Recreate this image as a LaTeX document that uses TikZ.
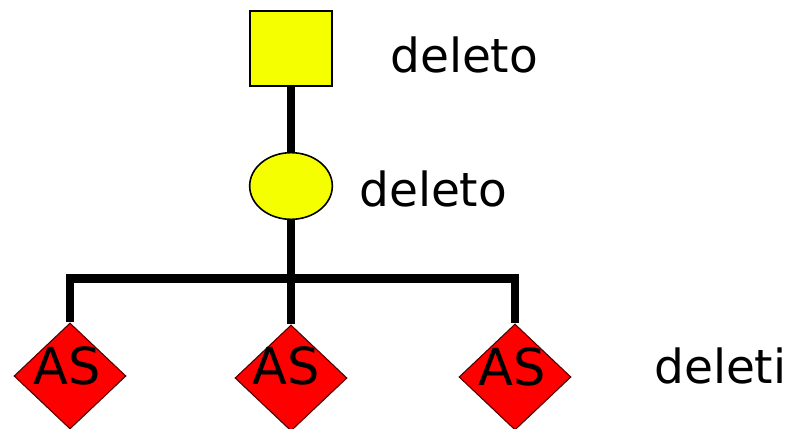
\documentclass[tikz,border=0pt]{standalone}
\usepackage{fontspec}
\setmainfont{DejaVu Sans}
\usetikzlibrary{shapes.geometric}
\definecolor{lemon}{RGB}{245,255,0}

\begin{document}
\begin{tikzpicture}[x=0.75pt,y=-0.75pt,
    wire/.style={line width=6.4pt,line join=miter},
    asbox/.style={diamond,draw=black!70!red,line width=0.8pt,fill=red,
      minimum width=84pt,minimum height=79.5pt,inner sep=0pt},
    astext/.style={inner sep=0pt,font=\fontsize{38.25}{40}\selectfont},
    lbl/.style={anchor=base west,inner sep=0pt,font=\fontsize{35.25}{40}\selectfont}]
  \useasboundingbox (0,0) rectangle (795,428);
  % top: square and circle
  \node[draw,line width=1.5pt,fill=lemon,minimum width=62pt,minimum height=56pt,inner sep=0pt] (sq) at (291,48.5) {};
  \node[ellipse,draw,line width=1.2pt,fill=lemon,minimum width=62pt,minimum height=50pt,inner sep=0pt] (ci) at (291,186) {};
  % bottom row
  \node[asbox] (as1) at (70,376) {};
  \node[asbox] (as2) at (291,378) {};
  \node[asbox] (as3) at (515,377) {};
  \node[astext] (t1) at ([shift={(-3,-10)}]as1.center) {AS};
  \node[astext] (t2) at ([shift={(-5,-12)}]as2.center) {AS};
  \node[astext] (t3) at ([shift={(-3,-10)}]as3.center) {AS};
  \coordinate (bar) at (291,278.5);
  \draw[wire] (sq.south) -- (ci.north);
  \draw[wire] (ci.south) -- (as2.north);
  \draw[wire] (as1.north) |- (bar) -| (as3.north);
  % labels
  \node[lbl] (l1) at (390,73) {deleto};
  \node[lbl] (l2) at (359,206) {deleto};
  \node[lbl] (l3) at (654,383) {deleti};
\end{tikzpicture}
\end{document}
